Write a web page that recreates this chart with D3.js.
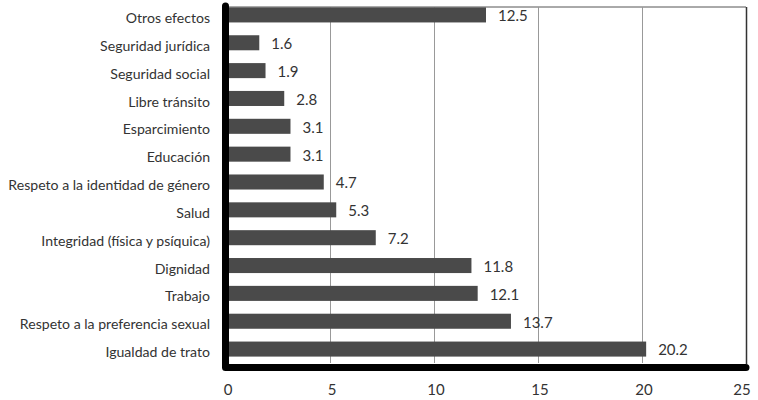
<!DOCTYPE html>
<html><head><meta charset="utf-8">
<script src="https://cdn.jsdelivr.net/npm/d3@7"></script>
<style>body{margin:0;background:#fff}svg{display:block}</style>
</head><body>
<svg id="c" width="758" height="400"></svg>
<script>
const categories = ["Otros efectos","Seguridad jurídica","Seguridad social","Libre tránsito","Esparcimiento","Educación","Respeto a la identidad de género","Salud","Integridad (física y psíquica)","Dignidad","Trabajo","Respeto a la preferencia sexual","Igualdad de trato"];
const values = [12.5,1.6,1.9,2.8,3.1,3.1,4.7,5.3,7.2,11.8,12.1,13.7,20.2];
const xTicks = [0,5,10,15,20,25];

const svg = d3.select("#c");
const x = d3.scaleLinear().domain([0,25]).range([226,746]);
const y = d3.scaleBand().domain(categories).range([1,363]).paddingInner(0.46).paddingOuter(0.23);
const font = "Lato, 'Open Sans', sans-serif";

// top border
svg.append("line").attr("x1",226).attr("x2",746).attr("y1",7).attr("y2",7).attr("stroke","#555").attr("stroke-width",1);
// gridlines
svg.selectAll(".grid").data(xTicks.slice(1,-1)).join("line")
  .attr("x1",d=>x(d)+0.5).attr("x2",d=>x(d)+0.5).attr("y1",7).attr("y2",363)
  .attr("stroke","#999").attr("stroke-width",1);
// right border
svg.append("line").attr("x1",x(25)+0.5).attr("x2",x(25)+0.5).attr("y1",7).attr("y2",364).attr("stroke","#333").attr("stroke-width",1.5);

// bars
svg.selectAll(".bar").data(values).join("rect")
  .attr("x",x(0)+2).attr("y",(d,i)=>y(categories[i]))
  .attr("width",d=>x(d)-x(0)-2).attr("height",y.bandwidth())
  .attr("fill","#4a4a4a");

// value labels
svg.selectAll(".val").data(values).join("text")
  .attr("x",d=>x(d)+12).attr("y",(d,i)=>y(categories[i])+y.bandwidth()/2+1)
  .attr("dy","0.36em").attr("font-family",font).attr("font-size",15).attr("fill","#333")
  .text(d=>d.toFixed(1));

// category labels
svg.selectAll(".cat").data(categories).join("text")
  .attr("x",210).attr("y",d=>y(d)+y.bandwidth()/2+3)
  .attr("dy","0.36em").attr("text-anchor","end").attr("font-family",font).attr("font-size",14.1).attr("fill","#333")
  .text(d=>d);

// thick black axis frame
svg.append("path")
  .attr("d",`M${x(0)-0.5},6 L${x(0)-0.5},367.5 L${x(25)},367.5`)
  .attr("fill","none").attr("stroke","#000").attr("stroke-width",7).attr("stroke-linecap","round").attr("stroke-linejoin","round");

// x tick labels
svg.selectAll(".xt").data(xTicks).join("text")
  .attr("x",d=>x(d)+(d===25?-4:2)).attr("y",395).attr("text-anchor","middle")
  .attr("font-family",font).attr("font-size",15).attr("fill","#333")
  .text(d=>d);
</script>
</body></html>
